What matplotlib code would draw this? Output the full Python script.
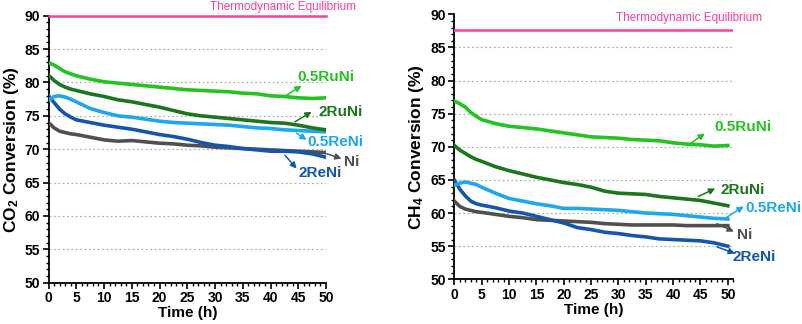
import matplotlib
matplotlib.use('Agg')
import matplotlib.pyplot as plt
from matplotlib.ticker import MultipleLocator

plt.rcParams['font.family'] = ['Liberation Sans', 'DejaVu Sans']
plt.rcParams['font.weight'] = 'bold'
plt.rcParams['mathtext.fontset'] = 'custom'
plt.rcParams['mathtext.rm'] = 'Liberation Sans:bold'
plt.rcParams['mathtext.bf'] = 'Liberation Sans:bold'
plt.rcParams['mathtext.default'] = 'bf'

# time (h)
time = [0, 1, 2, 3, 4, 5, 7.5, 10, 12.5, 15, 17.5, 20, 22.5, 25, 27.5, 30,
        32.5, 35, 37.5, 40, 42.5, 45, 47.5, 50]

# CO2 conversion (%)
co2_05runi = [83.0, 82.6, 82.1, 81.6, 81.3, 81.0, 80.5, 80.1, 79.9, 79.7, 79.5, 79.3,
              79.1, 78.9, 78.8, 78.7, 78.6, 78.4, 78.3, 78.0, 77.9, 77.7, 77.6, 77.7]
co2_2runi = [81.1, 80.3, 79.7, 79.3, 79.0, 78.8, 78.3, 77.9, 77.4, 77.1, 76.7, 76.3,
             75.8, 75.3, 75.0, 74.8, 74.6, 74.4, 74.2, 74.0, 73.9, 73.6, 73.2, 72.9]
co2_05reni = [77.3, 77.9, 78.0, 77.8, 77.5, 77.1, 76.1, 75.5, 75.0, 74.8, 74.5, 74.2,
              74.0, 73.9, 73.8, 73.7, 73.6, 73.4, 73.2, 73.1, 72.9, 72.8, 72.7, 72.6]
co2_2reni = [78.0, 77.0, 76.0, 75.3, 74.8, 74.4, 74.0, 73.6, 73.3, 73.0, 72.6, 72.2,
             71.9, 71.5, 71.0, 70.6, 70.4, 70.1, 69.9, 69.7, 69.7, 69.6, 69.3, 68.8]
co2_ni = [74.0, 73.2, 72.7, 72.5, 72.3, 72.2, 71.8, 71.4, 71.2, 71.3, 71.1, 70.9,
          70.8, 70.6, 70.5, 70.3, 70.2, 70.1, 70.0, 69.9, 69.8, 69.7, 69.6, 69.5]

# CH4 conversion (%)
ch4_05runi = [76.9, 76.5, 76.0, 75.2, 74.6, 74.1, 73.5, 73.1, 72.9, 72.7, 72.4, 72.1,
              71.8, 71.5, 71.4, 71.3, 71.1, 71.0, 70.9, 70.6, 70.4, 70.3, 70.1, 70.2]
ch4_2runi = [70.2, 69.5, 69.0, 68.5, 68.1, 67.8, 67.0, 66.4, 65.9, 65.4, 65.0, 64.6,
             64.3, 63.9, 63.3, 63.0, 62.9, 62.8, 62.5, 62.3, 62.1, 61.9, 61.5, 61.1]
ch4_05reni = [64.2, 64.5, 64.7, 64.5, 64.3, 63.9, 63.0, 62.2, 61.8, 61.4, 61.1, 60.7,
              60.7, 60.6, 60.5, 60.4, 60.2, 60.0, 59.9, 59.8, 59.6, 59.4, 59.2, 59.1]
ch4_2reni = [65.0, 63.6, 62.6, 61.8, 61.4, 61.2, 60.8, 60.3, 60.0, 59.5, 59.0, 58.5,
             57.8, 57.5, 57.1, 56.9, 56.6, 56.4, 56.1, 56.0, 55.9, 55.8, 55.5, 55.0]
ch4_ni = [61.8, 61.0, 60.6, 60.4, 60.2, 60.1, 59.8, 59.5, 59.3, 59.0, 58.9, 58.8,
          58.7, 58.6, 58.4, 58.3, 58.2, 58.2, 58.2, 58.2, 58.1, 58.1, 58.1, 58.1]

catalysts = ['0.5RuNi', '2RuNi', '0.5ReNi', '2ReNi', 'Ni']
colors = {'0.5RuNi': '#22c422', '2RuNi': '#1c761c', '0.5ReNi': '#1ea6ee',
          '2ReNi': '#1456ac', 'Ni': '#505050'}
co2_eq = 90.0
ch4_eq = 87.7
x_ticks = [0, 5, 10, 15, 20, 25, 30, 35, 40, 45, 50]
y_ticks = [50, 55, 60, 65, 70, 75, 80, 85, 90]
grid_levels = [55, 60, 65, 70, 75, 80, 85]
pink = '#ff3d9c'

co2 = dict(zip(catalysts, [co2_05runi, co2_2runi, co2_05reni, co2_2reni, co2_ni]))
ch4 = dict(zip(catalysts, [ch4_05runi, ch4_2runi, ch4_05reni, ch4_2reni, ch4_ni]))

# label position (x, y) and arrow (tail, head) for each curve
co2_labels = {'0.5RuNi': ((44.8, 80.8), (42.9, 78.1), (45.6, 79.5)),
              '2RuNi': ((48.6, 75.6), (44.4, 74.1), (47.4, 75.6)),
              '0.5ReNi': ((46.6, 71.1), (44.7, 72.4), (46.5, 71.4)),
              'Ni': ((53.2, 68.1), (49.8, 69.4), (52.8, 68.6)),
              '2ReNi': ((45.1, 66.5), (42.6, 69.1), (44.7, 67.1))}
ch4_labels = {'0.5RuNi': ((47.5, 73.0), (42.8, 70.3), (45.8, 72.0)),
              '2RuNi': ((48.6, 63.5), (44.6, 62.5), (47.7, 63.7)),
              '0.5ReNi': ((53.2, 60.7), (49.5, 59.2), (52.9, 61.0)),
              'Ni': ((51.6, 56.7), (48.0, 58.4), (51.1, 57.2)),
              '2ReNi': ((50.8, 53.4), (48.0, 54.9), (51.3, 53.9))}

fig = plt.figure(figsize=(8.03, 3.24), dpi=100)
ax1 = fig.add_axes([0.0604, 0.1275, 0.3456, 0.824])
ax2 = fig.add_axes([0.5658, 0.138, 0.3474, 0.8179])


def style(ax, xmax):
    for s in ['top', 'right']:
        ax.spines[s].set_visible(False)
    for s in ['left', 'bottom']:
        ax.spines[s].set_linewidth(1.3)
    ax.set_xticks(x_ticks)
    ax.set_xticklabels([str(v) for v in x_ticks], fontweight='bold', fontsize=10)
    ax.set_yticks(y_ticks)
    ax.set_yticklabels([str(v) for v in y_ticks], fontweight='bold', fontsize=10)
    ax.xaxis.set_minor_locator(MultipleLocator(1))
    ax.yaxis.set_minor_locator(MultipleLocator(1))
    ax.tick_params(which='major', direction='out', length=4, width=1.2, pad=2)
    ax.tick_params(which='minor', direction='out', length=2, width=1)
    ax.set_xlim(0, xmax)
    ax.set_ylim(50, 90)
    ax.hlines(grid_levels, 0, xmax, colors='#b0b0b0', linestyles=(0, (1.5, 2)),
              linewidth=0.9, zorder=0)
    ax.set_xlabel('Time (h)', fontsize=11, fontweight='bold', labelpad=1)


def draw(ax, series, labels):
    for name in ['Ni', '2ReNi', '0.5ReNi', '2RuNi', '0.5RuNi']:
        ax.plot(time, series[name], color=colors[name], lw=2.6, zorder=3)
    for name, (tpos, tail, head) in labels.items():
        ax.annotate('', xy=head, xytext=tail, annotation_clip=False,
                    arrowprops=dict(arrowstyle='-|>', color=colors[name], lw=1.1,
                                    mutation_scale=9, shrinkA=0, shrinkB=0))
        ax.text(tpos[0], tpos[1], name, color=colors[name], fontsize=11,
                fontweight='bold', ha='left', va='center', clip_on=False)


style(ax1, 50)
draw(ax1, co2, co2_labels)
ax1.plot([0, 50], [co2_eq, co2_eq], color=pink, lw=1.8, clip_on=False, zorder=4)
ax1.text(29.1, 91.3, 'Thermodynamic Equilibrium', color=pink, fontsize=8.5,
         fontweight='normal', ha='left', va='center', clip_on=False)
ax1.set_ylabel(r'CO$_2$ Conversion (%)', fontsize=12.5, fontweight='bold', labelpad=3)

style(ax2, 51)
draw(ax2, ch4, ch4_labels)
ax2.plot([0, 51], [ch4_eq, ch4_eq], color=pink, lw=1.8, zorder=4)
ax2.text(29.6, 89.4, 'Thermodynamic Equilibrium', color=pink, fontsize=8.5,
         fontweight='normal', ha='left', va='center', clip_on=False)
ax2.set_ylabel(r'CH$_4$ Conversion (%)', fontsize=12.5, fontweight='bold', labelpad=3)

fig.savefig('out.png', dpi=100)
